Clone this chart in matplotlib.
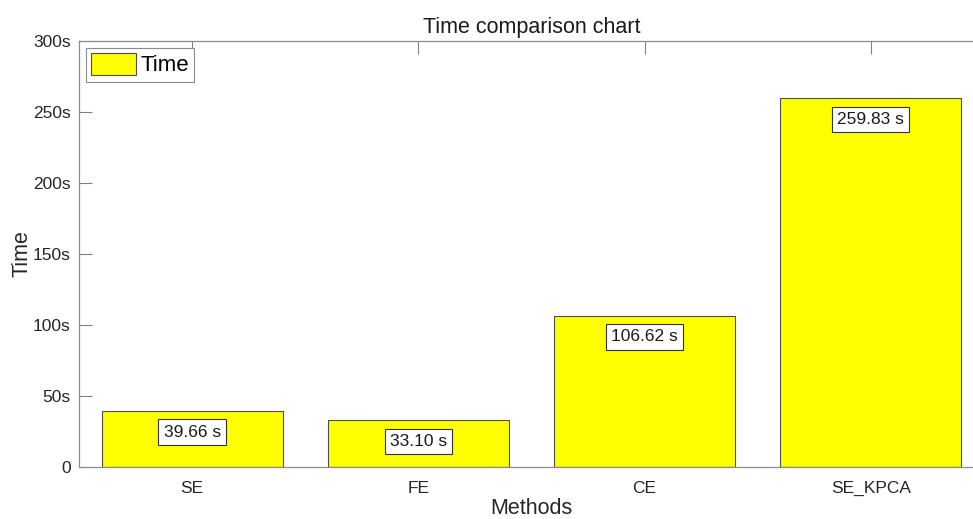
import numpy as np
from matplotlib import pyplot as plt

plt.rcParams['font.family'] = ['Liberation Sans', 'DejaVu Sans']

# data
methods = ['SE', 'FE', 'CE', 'SE_KPCA']
times = [39.66, 33.10, 106.62, 259.83]
yticks = [0, 50, 100, 150, 200, 250, 300]
ytick_labels = ['0', '50s', '100s', '150s', '200s', '250s', '300s']

fig = plt.figure(figsize=(9.73, 5.19), dpi=100)
ax = fig.add_axes([0.0812, 0.100, 0.930, 0.821])

x = np.arange(1, len(methods) + 1)
ax.bar(x, times, width=0.8, color='#ffff00', edgecolor='#4d4d4d', linewidth=0.8, label='Time')

# value labels inside bars
for xi, t in zip(x, times):
    ax.text(xi, t - 15, '%.2f s' % t, ha='center', va='center', fontsize=12.5, color='#1a1a1a',
            bbox=dict(boxstyle='square,pad=0.3', facecolor='white', edgecolor='#333333', linewidth=0.8))

ax.set_xlim(0.5, 4.5)
ax.set_ylim(0, 300)
ax.set_xticks(x)
ax.set_xticklabels(methods)
ax.set_yticks(yticks)
ax.set_yticklabels(ytick_labels)
ax.tick_params(direction='in', length=9, width=0.8, color='#808080', labelcolor='#262626',
               labelsize=12.5)
ax.tick_params(axis='x', top=True, bottom=False, pad=10)
ax.tick_params(axis='y', pad=6)
ax.spines['right'].set_visible(False)
for s in ax.spines.values():
    s.set_color('#8c8c8c')
    s.set_linewidth(0.9)

ax.set_xlabel('Methods', fontsize=15.5, color='#262626', labelpad=1)
ax.set_ylabel('Time', fontsize=15.5, color='#262626', labelpad=0)
ax.set_title('Time comparison chart', fontsize=15.5, color='#1a1a1a', pad=6)

leg = ax.legend(loc='upper left', fontsize=16, fancybox=False, framealpha=1,
                handlelength=2.0, handleheight=1.1, borderpad=0.25, handletextpad=0.2,
                borderaxespad=0.3)
leg.get_frame().set_edgecolor('#8c8c8c')
leg.get_frame().set_linewidth(0.8)

plt.savefig('out.png', dpi=100)
